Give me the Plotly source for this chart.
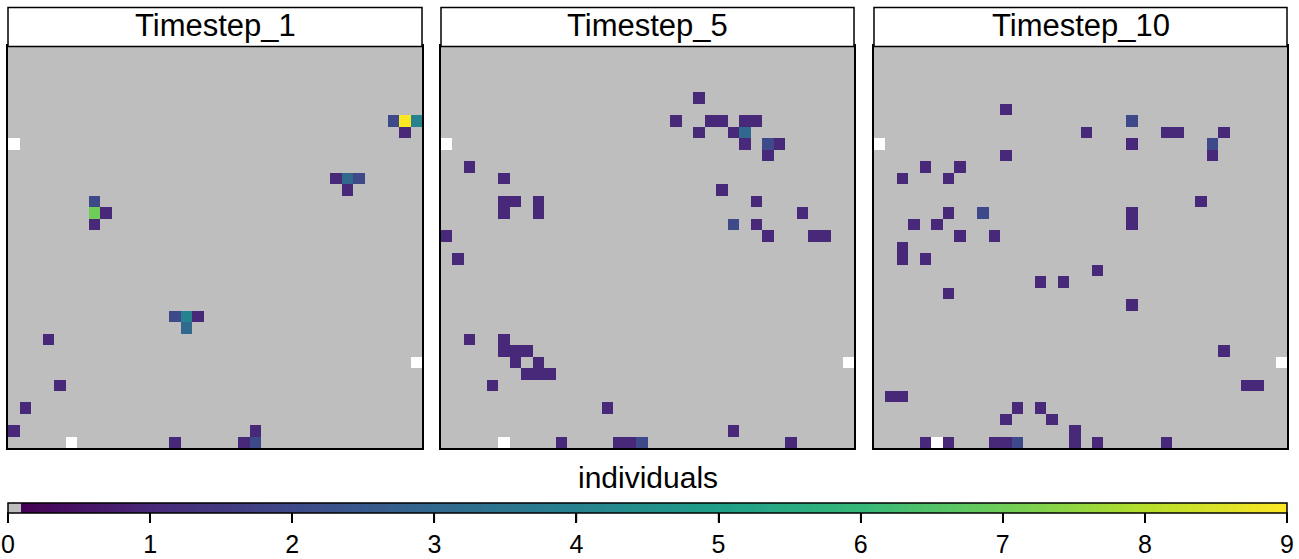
import numpy as np
import plotly.graph_objects as go

# ---------------- data ----------------
n_rows, n_cols = 35, 36
panel_titles = ["Timestep_1", "Timestep_5", "Timestep_10"]

# cells with no data (white)
na_rows = [8, 27, 34]
na_cols = [0, 35, 5]

t1_rows = [6, 6, 6, 7, 11, 11, 11, 12, 13, 14, 14, 15, 23, 23, 23, 24, 25, 29, 31, 33, 34, 34, 33, 34]
t1_cols = [33, 34, 35, 34, 28, 29, 30, 29, 7, 7, 8, 7, 14, 15, 16, 15, 3, 4, 1, 0, 14, 20, 21, 21]
t1_vals = [2, 9, 4, 1, 1, 3, 2, 1, 2, 7, 1, 1, 2, 4, 1, 3, 1, 1, 1, 1, 1, 1, 1, 2]

t5_rows = [4, 6, 6, 6, 6, 6, 7, 7, 7, 8, 8, 8, 9, 10, 11, 12, 13, 13, 13, 13,
           14, 14, 14, 15, 15, 16, 16, 16, 16, 18, 25, 25, 26, 26, 26, 27, 27,
           28, 28, 28, 29, 31, 33, 34, 34, 34, 34, 34]
t5_cols = [22, 20, 23, 24, 26, 27, 22, 25, 26, 26, 28, 29, 28, 2, 5, 24, 5, 6, 8, 27,
           5, 8, 31, 25, 27, 0, 28, 32, 33, 1, 2, 5, 5, 6, 7, 6, 8,
           7, 8, 9, 4, 14, 25, 10, 15, 16, 17, 30]
t5_vals = [1, 1, 1, 1, 1, 1, 1, 1, 3, 1, 2, 1, 1, 1, 1, 1, 1, 1, 1, 1,
           1, 1, 1, 2, 1, 1, 1, 1, 1, 1, 1, 1, 1, 1, 1, 1, 1,
           1, 1, 1, 1, 1, 1, 1, 1, 1, 2, 1]

t10_rows = [5, 6, 7, 7, 7, 7, 8, 8, 9, 9, 10, 10, 11, 11, 13, 14, 14, 14, 15, 15, 15,
            16, 16, 17, 18, 18, 19, 20, 20, 21, 22, 26, 29, 29, 30, 30, 31, 31, 32, 32,
            33, 34, 34, 34, 34, 34, 34, 34, 34]
t10_cols = [11, 22, 18, 25, 26, 30, 22, 29, 11, 29, 4, 7, 2, 6, 28, 6, 9, 22, 3, 5, 22,
            7, 10, 2, 2, 4, 19, 14, 16, 6, 22, 30, 32, 33, 1, 2, 12, 14, 11, 15,
            17, 4, 6, 10, 11, 12, 17, 19, 25]
t10_vals = [1, 2, 1, 1, 1, 1, 1, 2, 1, 1, 1, 1, 1, 1, 1, 1, 2, 1, 1, 1, 1,
            1, 1, 1, 1, 1, 1, 1, 1, 1, 1, 1, 1, 1, 1, 1, 1, 1, 1, 1,
            1, 1, 1, 1, 1, 2, 1, 1, 1]

legend_ticks = [0, 1, 2, 3, 4, 5, 6, 7, 8, 9]
legend_min, legend_max = 0, 9

# ---------------- build grids ----------------
def build_grid(rows, cols, vals):
    z = np.zeros((n_rows, n_cols))
    for r, c, v in zip(rows, cols, vals):
        z[r, c] = v
    for r, c in zip(na_rows, na_cols):
        z[r, c] = np.nan
    return z

grids = [build_grid(t1_rows, t1_cols, t1_vals),
         build_grid(t5_rows, t5_cols, t5_vals),
         build_grid(t10_rows, t10_cols, t10_vals)]

viridis = ['#440154', '#482878', '#3e4989', '#31688e', '#26828e',
           '#1f9e89', '#35b779', '#6ece58', '#b5de2b', '#fde725']
colorscale = [[0, '#BEBEBE'], [0.01, '#BEBEBE'], [0.01, viridis[0]]]
colorscale += [[i / 9, viridis[i]] for i in range(1, 10)]

# body margin is removed by post_script, so lay out in screen pixels
W, H = 1299, 559

def px(sx):
    return sx / W

def py(sy):
    return 1 - sy / H

panel_x = [(8, 422), (441, 854), (874, 1287)]
plot_top, plot_bot = 46.5, 449
strip_top = 7.5
cb_left, cb_len, cb_top, cb_thick = 8, 1279, 503, 10

fig = go.Figure()
shapes = []
annotations = []
for i, z in enumerate(grids):
    xa = 'x' if i == 0 else f'x{i+1}'
    ya = 'y' if i == 0 else f'y{i+1}'
    fig.add_trace(go.Heatmap(z=z, x=list(range(n_cols)), y=list(range(n_rows)),
                             coloraxis='coloraxis', xaxis=xa, yaxis=ya,
                             hoverongaps=False))
    x0, x1 = panel_x[i]
    axkw = dict(showgrid=False, zeroline=False, showticklabels=False, ticks='',
                showline=True, mirror=True, linecolor='black', linewidth=2)
    xkey = 'xaxis' if i == 0 else f'xaxis{i+1}'
    ykey = 'yaxis' if i == 0 else f'yaxis{i+1}'
    fig.update_layout({
        xkey: dict(domain=[px(x0), px(x1)], range=[-0.5, n_cols - 0.5],
                   anchor=ya, **axkw),
        ykey: dict(domain=[py(plot_bot), py(plot_top)],
                   range=[n_rows - 0.5, -0.5], anchor=xa, **axkw),
    })
    shapes.append(dict(type='rect', xref='paper', yref='paper',
                       x0=px(x0), x1=px(x1), y0=py(plot_top), y1=py(strip_top),
                       line=dict(color='black', width=1.5), fillcolor='white'))
    annotations.append(dict(text=panel_titles[i], xref='paper', yref='paper',
                            x=px((x0 + x1) / 2), y=py((strip_top + plot_top) / 2 - 1),
                            xanchor='center', yanchor='middle', showarrow=False,
                            font=dict(size=31, color='black')))

# legend tick marks below the colour bar
for t in legend_ticks:
    tx = cb_left + (t - legend_min) / (legend_max - legend_min) * cb_len
    shapes.append(dict(type='line', xref='paper', yref='paper',
                       x0=px(tx), x1=px(tx), y0=py(cb_top + cb_thick),
                       y1=py(cb_top + cb_thick + 10),
                       line=dict(color='black', width=1.5)))

annotations.append(dict(text='individuals', xref='paper', yref='paper',
                        x=px(647.5), y=py(478), xanchor='center', yanchor='middle',
                        showarrow=False, font=dict(size=30, color='black')))

fig.update_layout(
    width=W, height=H,
    margin=dict(l=0, r=0, t=0, b=0),
    paper_bgcolor='white', plot_bgcolor='white',
    font=dict(family='Liberation Sans, Arial, sans-serif', color='black'),
    shapes=shapes, annotations=annotations,
    coloraxis=dict(
        colorscale=colorscale, cmin=legend_min, cmax=legend_max,
        colorbar=dict(
            orientation='h', x=px(cb_left), xanchor='left', y=py(cb_top), yanchor='top',
            len=cb_len, lenmode='pixels', thickness=cb_thick, thicknessmode='pixels',
            xpad=0, ypad=0, outlinewidth=1.5, outlinecolor='black',
            ticks='outside', ticklen=10, tickwidth=1.5, tickcolor='black',
            tickvals=legend_ticks, ticktext=[str(t) for t in legend_ticks],
            tickfont=dict(size=25, color='black'), title=dict(text=''),
        ),
    ),
)

fig.write_html('out.html', config={'displayModeBar': False},
               post_script="document.body.style.margin='0';document.body.style.overflow='hidden';")
